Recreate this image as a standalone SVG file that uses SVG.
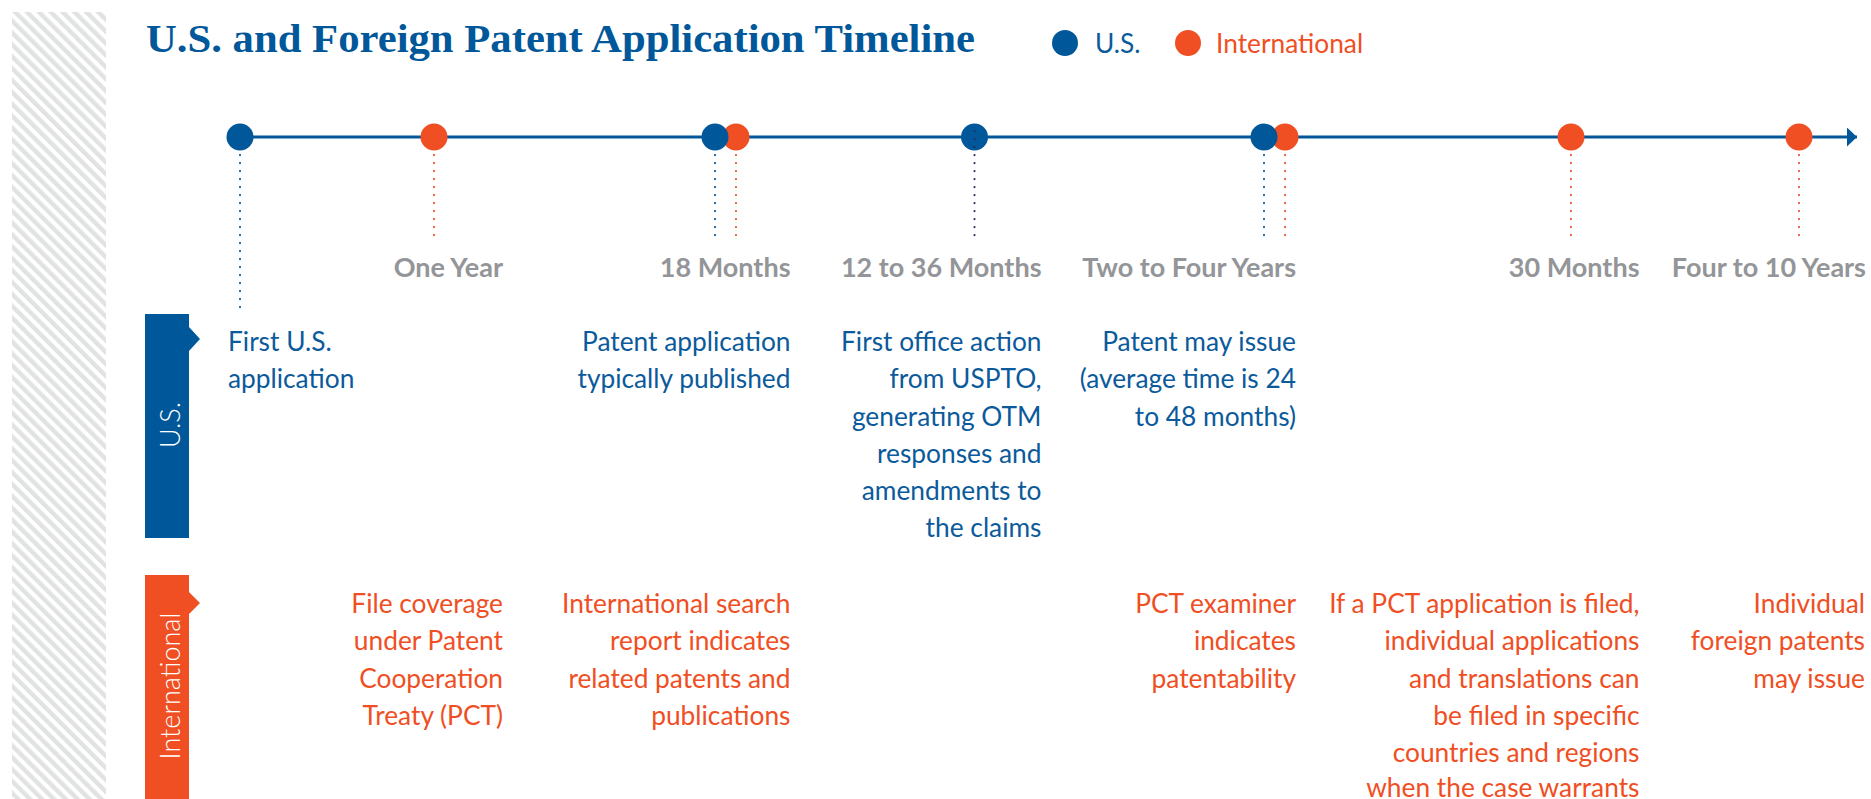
<svg xmlns="http://www.w3.org/2000/svg" width="1871" height="799" viewBox="0 0 1871 799">
<defs>
<pattern id="stripes" patternUnits="userSpaceOnUse" width="8.4" height="8.4" patternTransform="rotate(-45)">
<rect x="0" y="0" width="4.4" height="8.4" fill="#e1e3e2"/>
</pattern>
<marker id="arrow" markerUnits="userSpaceOnUse" markerWidth="12" markerHeight="20" refX="10" refY="9.5" orient="auto">
<path d="M0,0 L10,9.5 L0,19 Z" fill="#00579a"/>
</marker>
</defs>
<style>
.title{font-family:"Liberation Serif",serif;font-weight:bold;font-size:40px;fill:#00579a}
.when{font-family:Lato,"Liberation Sans",sans-serif;font-weight:bold;font-size:27px;fill:#939598;text-anchor:end}
.us{font-family:Lato,"Liberation Sans",sans-serif;font-size:26.3px;fill:#0b5a9b}
.intl{font-family:Lato,"Liberation Sans",sans-serif;font-size:26.3px;fill:#f04e23}
.end{text-anchor:end}
.tab{font-family:Lato,"Liberation Sans",sans-serif;font-weight:300;font-size:27px;fill:#ffffff;text-anchor:middle}
.dotb{stroke:#0b5a9b;stroke-width:2.2;stroke-linecap:round;stroke-dasharray:0.1 7.9;fill:none}
.doto{stroke:#f04e23;stroke-width:2.2;stroke-linecap:round;stroke-dasharray:0.1 7.9;fill:none}
.dotn{stroke:#1d2f5e;stroke-width:2.2;stroke-linecap:round;stroke-dasharray:0.1 7.9;fill:none}
.cb{fill:#00579a}
.co{fill:#f04e23}
</style>
<rect width="1871" height="799" fill="#ffffff"/>
<rect id="stripe-band" x="12" y="12" width="94" height="787" fill="url(#stripes)"/>

<g id="title">
<text class="title" x="146" y="52" textLength="829" lengthAdjust="spacingAndGlyphs">U.S. and Foreign Patent Application Timeline</text>
</g>

<g id="legend">
<circle class="cb" cx="1065" cy="43" r="13"/>
<text class="us" x="1095" y="53">U.S.</text>
<circle class="co" cx="1188" cy="43" r="13"/>
<text class="intl" x="1216" y="53">International</text>
</g>

<g id="connectors">
<line x1="240" y1="137" x2="1857" y2="137" stroke="#00579a" stroke-width="2.8" marker-end="url(#arrow)"/>
<line class="dotb" x1="240" y1="155" x2="240" y2="313"/>
<line class="doto" x1="434" y1="155" x2="434" y2="242"/>
<line class="dotb" x1="715" y1="155" x2="715" y2="242"/>
<line class="doto" x1="736" y1="155" x2="736" y2="242"/>
<line class="dotn" x1="974.5" y1="139" x2="974.5" y2="242"/>
<line class="dotb" x1="1264" y1="155" x2="1264" y2="242"/>
<line class="doto" x1="1285" y1="155" x2="1285" y2="242"/>
<line class="doto" x1="1571" y1="155" x2="1571" y2="242"/>
<line class="doto" x1="1799" y1="155" x2="1799" y2="242"/>
</g>

<g id="tab-us">
<path class="cb" d="M145,314 H189 V327 L200,339 L189,351 V538 H145 Z"/>
<text class="tab" transform="translate(180,425) rotate(-90)">U.S.</text>
</g>
<g id="tab-intl">
<path class="co" d="M145,575 H189 V592 L200,603 L189,614 V799 H145 Z"/>
<text class="tab" transform="translate(180,686) rotate(-90)">International</text>
</g>

<g id="event-first-us">
<circle class="cb" cx="240" cy="137" r="13.5"/>
<text class="us" x="228" y="351"><tspan x="228">First U.S.</tspan><tspan x="228" y="388">application</tspan></text>
</g>

<g id="event-one-year">
<circle class="co" cx="434" cy="137" r="13.5"/>
<text class="when" x="503" y="277">One Year</text>
<text class="intl end" y="613"><tspan x="503">File coverage</tspan><tspan x="503" y="650">under Patent</tspan><tspan x="503" y="687.5">Cooperation</tspan><tspan x="503" y="724.5">Treaty (PCT)</tspan></text>
</g>

<g id="event-18-months">
<circle class="co" cx="736" cy="137" r="13.5"/>
<circle class="cb" cx="715" cy="137" r="13.5"/>
<text class="when" x="790.5" y="277">18 Months</text>
<text class="us end" y="351"><tspan x="790.5">Patent application</tspan><tspan x="790.5" y="388">typically published</tspan></text>
<text class="intl end" y="613"><tspan x="790.5">International search</tspan><tspan x="790.5" y="650">report indicates</tspan><tspan x="790.5" y="687.5">related patents and</tspan><tspan x="790.5" y="724.5">publications</tspan></text>
</g>

<g id="event-12-36-months">
<circle class="cb" cx="974.5" cy="137" r="13.5"/>
<line class="dotn" x1="974.5" y1="131" x2="974.5" y2="150"/>
<text class="when" x="1041.5" y="277">12 to 36 Months</text>
<text class="us end" y="351"><tspan x="1041.5">First office action</tspan><tspan x="1041.5" y="388">from USPTO,</tspan><tspan x="1041.5" y="425.5">generating OTM</tspan><tspan x="1041.5" y="462.5">responses and</tspan><tspan x="1041.5" y="500">amendments to</tspan><tspan x="1041.5" y="537">the claims</tspan></text>
</g>

<g id="event-two-four-years">
<circle class="co" cx="1285" cy="137" r="13.5"/>
<circle class="cb" cx="1264" cy="137" r="13.5"/>
<text class="when" x="1296" y="277">Two to Four Years</text>
<text class="us end" y="351"><tspan x="1296">Patent may issue</tspan><tspan x="1296" y="388">(average time is 24</tspan><tspan x="1296" y="425.5">to 48 months)</tspan></text>
<text class="intl end" y="613"><tspan x="1296">PCT examiner</tspan><tspan x="1296" y="650">indicates</tspan><tspan x="1296" y="687.5">patentability</tspan></text>
</g>

<g id="event-30-months">
<circle class="co" cx="1571" cy="137" r="13.5"/>
<text class="when" x="1639.5" y="277">30 Months</text>
<text class="intl end" y="613"><tspan x="1639.5">If a PCT application is filed,</tspan><tspan x="1639.5" y="650">individual applications</tspan><tspan x="1639.5" y="687.5">and translations can</tspan><tspan x="1639.5" y="724.5">be filed in specific</tspan><tspan x="1639.5" y="761.5">countries and regions</tspan><tspan x="1639.5" y="797">when the case warrants</tspan></text>
</g>

<g id="event-four-ten-years">
<circle class="co" cx="1799" cy="137" r="13.5"/>
<text class="when" x="1866" y="277">Four to 10 Years</text>
<text class="intl end" y="613"><tspan x="1865">Individual</tspan><tspan x="1865" y="650">foreign patents</tspan><tspan x="1865" y="687.5">may issue</tspan></text>
</g>
</svg>
